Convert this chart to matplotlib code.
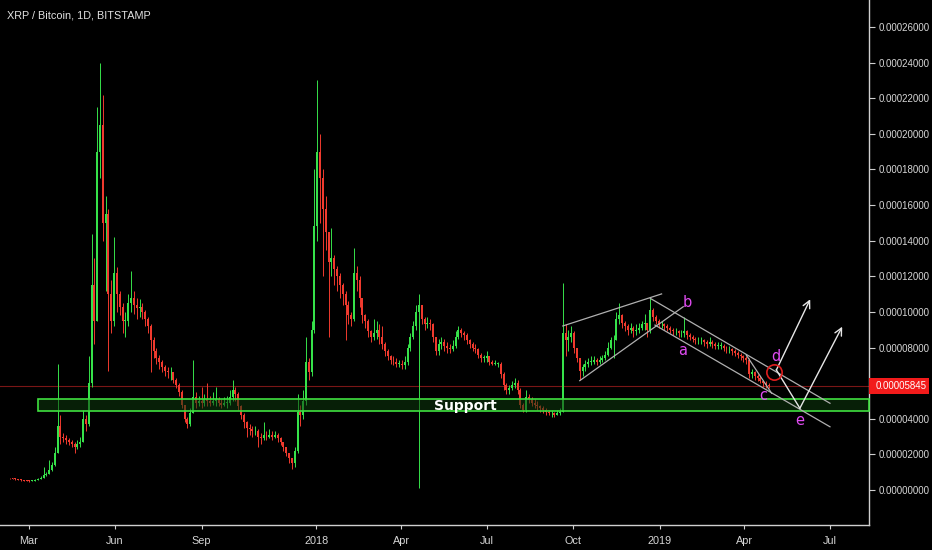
import matplotlib
matplotlib.use("Agg")
import matplotlib.pyplot as plt
import matplotlib.dates as mdates
from matplotlib.patches import Rectangle
import pandas as pd
import numpy as np

# ---------------- data (prices in micro-BTC, 3-day candles) ----------------
candle_start = "2017-02-09"
candle_step_days = 3
first_open = 6.8
closes = [
    6.6, 6.4, 6.1, 5.8, 5.5, 5.3, 5.1, 5.0, 5.3, 5.7,
    6.2, 7.0, 8.2, 9.0, 11.0, 14, 21, 36, 30, 29,
    28, 27, 26, 24, 26, 27, 40, 37, 60, 115,
    95, 190, 205, 150, 155, 110, 95, 122, 110, 103,
    95, 95, 105, 108, 104, 102, 103, 100, 96, 92,
    84, 78, 74, 72, 69, 67, 66, 66, 62, 59,
    55, 48, 40, 37, 43, 52, 49, 50, 49, 51,
    50, 49, 50, 51, 49, 48, 49, 49, 52, 56,
    54, 47, 42, 38, 35, 34, 33, 33, 30, 29,
    31, 30, 31, 30, 31, 29, 27, 24, 21, 18,
    15, 22, 44, 42, 50, 72, 66, 90, 148, 190,
    175, 158, 145, 128, 130, 124, 120, 115, 110, 104,
    98, 96, 122, 118, 108, 98, 95, 89, 86, 88,
    90, 86, 82, 78, 75, 73, 72, 71, 71, 70,
    72, 80, 86, 92, 100, 104, 96, 93, 94, 93,
    86, 78, 82, 83, 81, 80, 79, 81, 86, 90,
    88, 87, 84, 82, 80, 79, 76, 74, 74, 75,
    72, 71, 71, 71, 65, 59, 56, 57, 59, 60,
    56, 48, 45, 52, 51, 49, 48, 47, 46, 45,
    44, 43, 43, 42, 43, 44, 88, 84, 86, 88,
    80, 74, 67, 69, 71, 72, 72, 73, 72, 73,
    74, 76, 80, 84, 84, 96, 98, 94, 92, 90,
    91, 89, 90, 91, 93, 94, 90, 101, 97, 95,
    93, 93, 92, 91, 90, 89, 89, 88, 88, 89,
    87, 86, 85, 84, 84, 84, 83, 82, 83, 82,
    81, 81, 81, 80, 79, 79, 78, 77, 76, 75,
    74, 73, 65, 66, 64, 63, 61, 60, 59, 58.45,
]
highs = [
    7.0, 6.9, 6.6, 6.3, 6.0, 5.7, 5.5, 5.4, 5.8, 6.2,
    6.8, 7.6, 13, 10, 17, 16, 24, 71, 42, 32,
    31, 29, 28, 27, 28, 30, 45, 42, 75, 144,
    130, 215, 240, 222, 165, 158, 118, 142, 125, 112,
    105, 100, 110, 123, 112, 108, 107, 105, 101, 97,
    93, 86, 80, 76, 73, 70, 69, 69, 66, 63,
    60, 56, 48, 41, 46, 73, 55, 53, 58, 54,
    60, 53, 55, 58, 52, 51, 52, 53, 56, 62,
    58, 55, 48, 43, 39, 37, 36, 36, 34, 32,
    38, 33, 34, 33, 33, 32, 30, 27, 24, 21,
    18, 24, 54, 48, 56, 86, 74, 95, 180, 230,
    200, 180, 165, 145, 147, 132, 126, 122, 116, 112,
    106, 100, 136, 126, 120, 108, 99, 96, 90, 96,
    95, 93, 92, 83, 79, 76, 75, 74, 73, 73,
    75, 82, 88, 95, 104, 110, 104, 97, 97, 96,
    94, 86, 85, 86, 85, 83, 82, 84, 89, 92,
    91, 89, 88, 85, 83, 82, 80, 77, 76, 78,
    75, 73, 73, 72, 72, 66, 60, 59, 61, 63,
    62, 57, 49, 56, 54, 52, 51, 50, 48, 47,
    46, 45, 45, 44, 45, 46, 116, 93, 90, 92,
    89, 80, 74, 71, 73, 74, 75, 75, 74, 75,
    76, 78, 83, 86, 87, 100, 105, 99, 95, 93,
    94, 92, 93, 94, 95, 99, 94, 108, 102, 98,
    96, 95, 94, 93, 92, 91, 91, 90, 90, 97,
    90, 88, 87, 86, 86, 86, 85, 84, 86, 84,
    83, 83, 83, 82, 81, 81, 80, 79, 78, 77,
    76, 75, 74, 68, 67, 65, 64, 62, 61, 60,
]
lows = [
    6.2, 6.1, 5.8, 5.5, 5.2, 5.0, 4.8, 4.7, 4.9, 5.2,
    5.6, 6.1, 7.0, 7.8, 8.8, 10.5, 13.5, 21, 26, 27,
    26, 25, 24, 21, 23, 24, 27, 33, 36, 58,
    82, 95, 175, 140, 112, 67, 88, 92, 100, 98,
    88, 86, 92, 100, 99, 96, 97, 96, 92, 88,
    66, 74, 71, 68, 66, 64, 63, 62, 60, 57,
    53, 46, 38, 35, 36, 43, 46, 47, 46, 47,
    47, 47, 48, 47, 47, 46, 47, 46, 48, 50,
    50, 45, 40, 35, 30, 31, 30, 31, 24, 26,
    28, 28, 29, 28, 29, 27, 25, 22, 19, 15,
    12, 13, 21, 36, 40, 48, 62, 64, 88, 140,
    150, 120, 135, 86, 120, 115, 112, 108, 104, 84,
    93, 92, 95, 112, 103, 94, 91, 86, 83, 84,
    85, 82, 79, 75, 73, 71, 70, 69, 69, 68,
    68, 70, 78, 85, 90, 1, 93, 90, 91, 90,
    83, 76, 76, 79, 78, 77, 77, 78, 80, 85,
    86, 84, 82, 80, 78, 77, 74, 72, 72, 72,
    70, 70, 70, 69, 63, 56, 54, 54, 56, 57,
    54, 46, 44, 44, 49, 47, 46, 45, 44, 43,
    42, 42, 41, 41, 42, 42, 44, 75, 78, 83,
    77, 72, 62, 64, 67, 69, 70, 71, 70, 71,
    72, 73, 75, 79, 74, 84, 93, 91, 89, 87,
    88, 86, 87, 88, 90, 90, 86, 88, 95, 93,
    91, 91, 90, 89, 88, 87, 87, 86, 86, 86,
    85, 84, 83, 82, 82, 82, 81, 80, 81, 80,
    79, 79, 79, 78, 77, 77, 76, 75, 74, 73,
    72, 71, 63, 63, 62, 61, 60, 58, 57, 57,
]
last_price = 58.45

# axis ticks
ytick_vals = [0, 20, 40, 80, 100, 120, 140, 160, 180, 200, 220, 240, 260]
xtick_dates = ["2017-03-01", "2017-06-01", "2017-09-01", "2018-01-01", "2018-04-01",
               "2018-07-01", "2018-10-01", "2019-01-01", "2019-04-01", "2019-07-01"]
xtick_labels = ["Mar", "Jun", "Sep", "2018", "Apr", "Jul", "Oct", "2019", "Apr", "Jul"]

# support zone
support_start = "2017-03-11"
support_low = 44.4
support_high = 51.1
support_label_date = "2018-06-08"

# drawn trend lines (start date, start price, end date, end price)
trend_start_dates = ["2018-09-20", "2018-10-08", "2018-12-22", "2018-12-27", "2019-04-03"]
trend_start_vals = [92.1, 61.4, 107.6, 92.6, 75.8]
trend_end_dates = ["2019-01-03", "2019-01-26", "2019-07-01", "2019-07-01", "2019-04-30"]
trend_end_vals = [110.1, 102.9, 48.7, 35.5, 54.3]

# projected path d -> e and arrows
path_dates = ["2019-05-05", "2019-05-30"]
path_vals = [67.4, 45.9]
arrow_start_dates = ["2019-05-05", "2019-05-30"]
arrow_start_vals = [67.4, 45.9]
arrow_end_dates = ["2019-06-10", "2019-07-14"]
arrow_end_vals = [107.1, 91.7]
circle_date = "2019-05-02"
circle_val = 66.4

wave_labels = ["a", "b", "c", "d", "e"]
wave_dates = ["2019-01-25", "2019-01-30", "2019-04-21", "2019-05-05", "2019-05-30"]
wave_vals = [78.6, 105.0, 52.8, 74.7, 39.3]

# ---------------- drawing ----------------
BG = "#000000"
AXC = "#cfcfcf"
TXT = "#d6d6d6"
UP = "#36e24a"
DOWN = "#f03a2e"
NARROW = ["Liberation Sans Narrow", "Liberation Sans", "DejaVu Sans"]

def dn(s):
    return mdates.date2num(pd.Timestamp(s))

fig = plt.figure(figsize=(9.32, 5.5), dpi=100, facecolor=BG)
ax = fig.add_axes([0, 25 / 550, 869 / 932, 525 / 550])
ax.set_facecolor(BG)

dates = pd.date_range(candle_start, periods=len(closes), freq=f"{candle_step_days}D")
xs = mdates.date2num(dates)
c = np.array(closes, float)
o = np.array([first_open] + closes[:-1], float)
h = np.maximum.reduce([np.array(highs, float), o, c])
l = np.minimum.reduce([np.array(lows, float), o, c])
cols = [UP if cc >= oo else DOWN for oo, cc in zip(o, c)]

ax.vlines(xs, l, h, colors=cols, linewidth=0.7, zorder=2)
body_bottom = np.minimum(o, c)
body_h = np.maximum(np.abs(c - o), 0.4)
ax.bar(xs, body_h, bottom=body_bottom, width=2.1, color=cols, linewidth=0, zorder=3)

ref = dn("2017-03-01")
ax.set_xlim(ref - 28.5 / 0.9407, ref + (869 - 28.5) / 0.9407)
ax.set_ylim((490 - 525) / 1.781, 490 / 1.781)

# last price line
ax.axhline(last_price, color="#7a1616", lw=0.8, zorder=1)

# support zone
x0 = dn(support_start)
x1 = ax.get_xlim()[1]
ax.add_patch(Rectangle((x0, support_low), x1 - x0, support_high - support_low,
                       facecolor="#0e3a0e", alpha=0.55, edgecolor="none", zorder=4))
ax.add_patch(Rectangle((x0, support_low), x1 - x0, support_high - support_low,
                       facecolor="none", edgecolor="#3fe03f", lw=1.2, zorder=5, clip_on=False))
ax.text(dn(support_label_date), (support_low + support_high) / 2 - 0.5, "Support",
        color="white", fontsize=10, fontweight="bold", ha="center", va="center",
        family="DejaVu Sans", zorder=6)

# trend lines
for sd, sv, ed, ev in zip(trend_start_dates, trend_start_vals, trend_end_dates, trend_end_vals):
    ax.plot([dn(sd), dn(ed)], [sv, ev], color="#b0b0b0", lw=0.9, zorder=6)

ax.plot([dn(d) for d in path_dates], path_vals, color="#e6e6e6", lw=1.0, zorder=6)
for sd, sv, ed, ev in zip(arrow_start_dates, arrow_start_vals, arrow_end_dates, arrow_end_vals):
    ax.annotate("", xy=(dn(ed), ev), xytext=(dn(sd), sv),
                arrowprops=dict(arrowstyle="->", color="#e6e6e6", lw=1.0,
                                mutation_scale=13, shrinkA=0, shrinkB=0),
                zorder=6)

ax.plot([dn(circle_date)], [circle_val], marker="o", ms=11, mfc="none",
        mec="#e01e1e", mew=1.2, zorder=7)

for lab, d, v in zip(wave_labels, wave_dates, wave_vals):
    ax.text(dn(d), v, lab, color="#e04cf2", fontsize=10.5, ha="center", va="center",
            family="DejaVu Sans", zorder=8)

# spines
for s in ["left", "top"]:
    ax.spines[s].set_visible(False)
for s in ["right", "bottom"]:
    ax.spines[s].set_color(AXC)
    ax.spines[s].set_linewidth(1.0)

# y axis on right
ax.yaxis.tick_right()
ax.set_yticks(ytick_vals)
ax.set_yticklabels([f"{v * 1e-6:.8f}" for v in ytick_vals], family=NARROW)
ax.tick_params(axis="y", colors=AXC, labelcolor=TXT, length=4, width=0.8,
               labelsize=7.0, pad=3)

# x axis
ax.set_xticks([dn(d) for d in xtick_dates])
ax.set_xticklabels(xtick_labels, family=NARROW)
ax.tick_params(axis="x", colors=AXC, labelcolor=TXT, length=3, width=0.8,
               labelsize=7.8, pad=5)

# last price tag
ytr = ax.get_yaxis_transform()
ax.add_patch(Rectangle((1.0, last_price - 4.35), 60 / 869, 8.7, transform=ytr,
                       facecolor="#f21b1b", edgecolor="none", clip_on=False, zorder=9))
ax.text(876 / 869, last_price, f"{last_price * 1e-6:.8f}", transform=ytr,
        color="white", fontsize=7.0, ha="left", va="center", family=NARROW,
        zorder=10, clip_on=False)

# title
fig.text(7 / 932, 1 - 15 / 550, "XRP / Bitcoin, 1D, BITSTAMP", color="#e2e2e2",
         fontsize=7.8, ha="left", va="center", family=NARROW)

fig.savefig("out.png", dpi=100, facecolor=BG)
